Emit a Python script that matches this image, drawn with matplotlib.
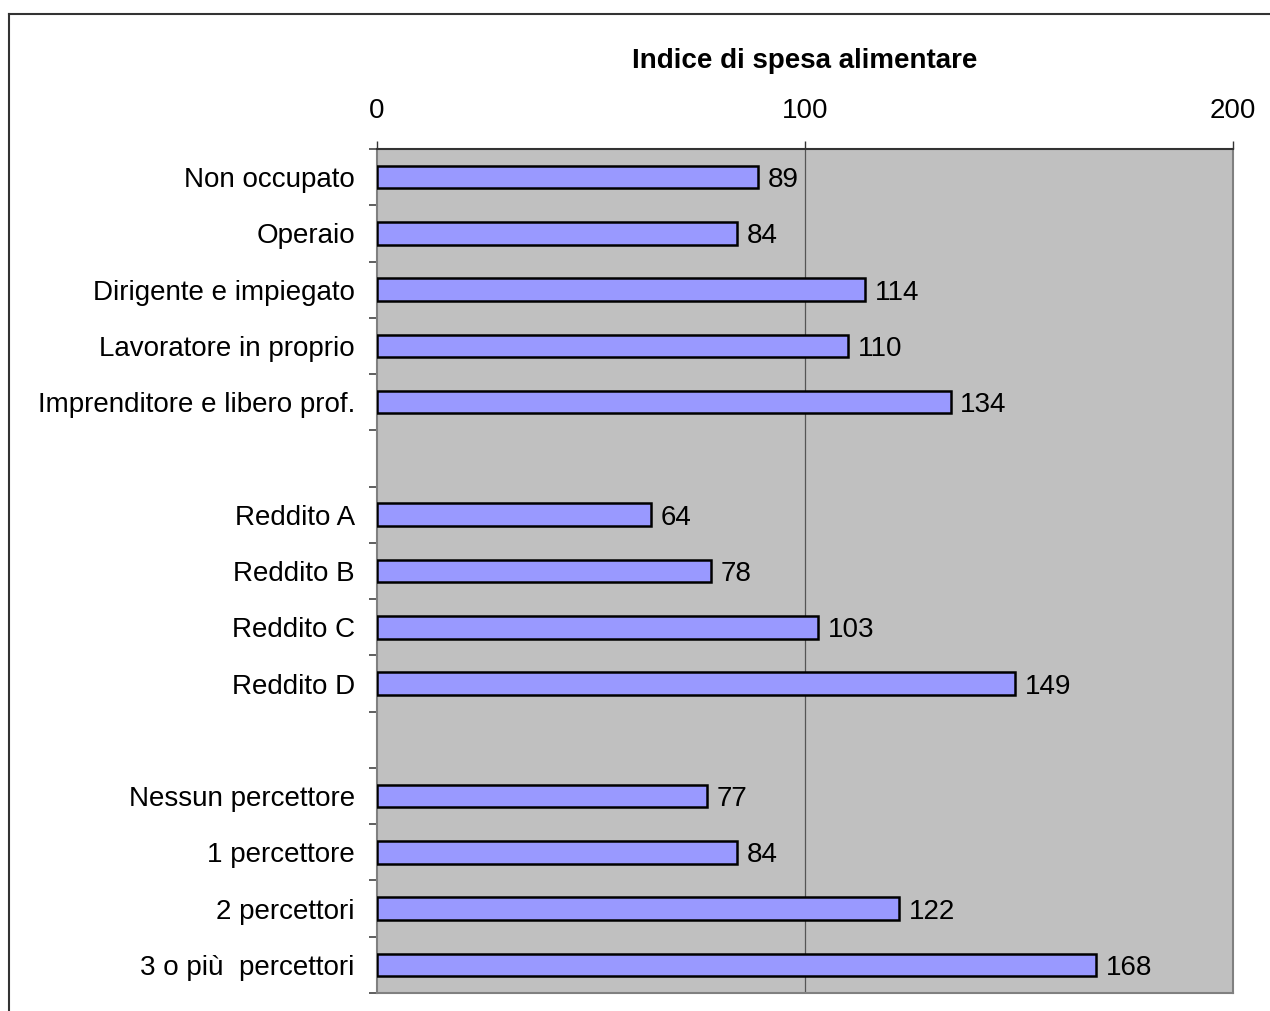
import numpy as np
import matplotlib.pyplot as plt
from matplotlib.lines import Line2D

plt.rcParams['font.family'] = ['Liberation Sans', 'DejaVu Sans']

categories = ["Non occupato", "Operaio", "Dirigente e impiegato", "Lavoratore in proprio",
              "Imprenditore e libero prof.", "",
              "Reddito A", "Reddito B", "Reddito C", "Reddito D", "",
              "Nessun percettore", "1 percettore", "2 percettori", "3 o più  percettori"]
values = [89, 84, 114, 110, 134, None, 64, 78, 103, 149, None, 77, 84, 122, 168]
x_ticks = [0, 100, 200]
title = "Indice di spesa alimentare"

fs = 20

fig = plt.figure(figsize=(12.7, 10.11), dpi=100)
ax = fig.add_axes([377 / 1270, 1 - 993 / 1011, (1233 - 377) / 1270, (993 - 149) / 1011])
ax.set_facecolor('#C0C0C0')

pos = np.arange(len(categories))
for y, v in zip(pos, values):
    if v is None:
        continue
    ax.barh(y, v, height=0.4, color='#9999FF', edgecolor='black', linewidth=1.8, zorder=3)
    ax.text(v + 2.3, y, str(v), va='center_baseline', ha='left', fontsize=fs, zorder=4)

ax.axvline(100, color='#555555', linewidth=0.9, zorder=1)

ax.set_xlim(0, 200)
ax.set_ylim(len(categories) - 0.5, -0.5)
ax.xaxis.tick_top()
ax.set_xticks(x_ticks)
ax.tick_params(axis='x', direction='out', length=6, width=1, pad=12, labelsize=fs,
               color='#333333')

ax.set_yticks(pos)
ax.set_yticklabels(categories)
ax.tick_params(axis='y', which='major', length=0, pad=16, labelsize=fs)
ax.set_yticks(np.arange(-0.5, len(categories)), minor=True)
ax.tick_params(axis='y', which='minor', direction='out', length=6, width=1.2, color='#444444')

for side in ['left', 'right', 'bottom']:
    ax.spines[side].set_color('#808080')
    ax.spines[side].set_linewidth(1.5)
ax.spines['top'].set_color('#333333')
ax.spines['top'].set_linewidth(1.5)

fig.text(805 / 1270, 1 - 61 / 1011, title, ha='center', va='center',
         fontsize=fs, fontweight='bold')

# frame around the chart (top and left visible)
fig.add_artist(Line2D([9 / 1270, 1.0], [1 - 14 / 1011, 1 - 14 / 1011],
                      transform=fig.transFigure, color='#333333', linewidth=1.5))
fig.add_artist(Line2D([9 / 1270, 9 / 1270], [0.0, 1 - 14 / 1011],
                      transform=fig.transFigure, color='#333333', linewidth=1.5))

fig.savefig('out.png', dpi=100)
